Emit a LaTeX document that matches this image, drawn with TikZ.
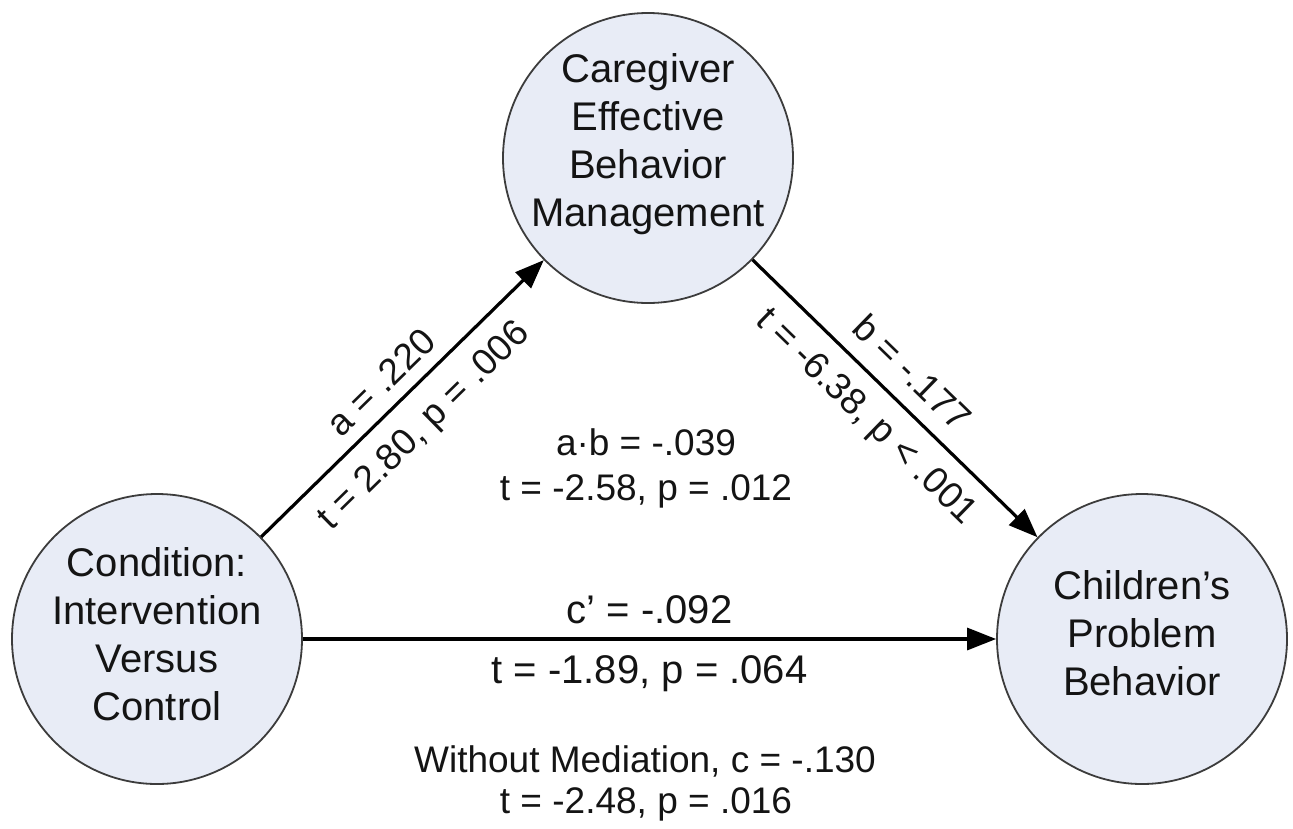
\documentclass[tikz,border=0pt]{standalone}
\usepackage{fontspec}
\setmainfont{Liberation Sans}
\usetikzlibrary{arrows.meta}
\definecolor{circfill}{RGB}{232,236,246}
\definecolor{circline}{RGB}{60,60,60}
\definecolor{txt}{RGB}{20,20,20}
\begin{document}
\begin{tikzpicture}[x=1pt,y=-1pt,
  circ/.style={circle, draw=circline, line width=1.8pt, fill=circfill, minimum size=290pt, inner sep=0pt},
  ctext/.style={align=center, text=txt, font=\fontsize{40}{48}\selectfont, inner sep=0pt},
  lab/.style={text=txt, font=\fontsize{37}{44}\selectfont, inner sep=0pt, anchor=base},
  hlab/.style={text=txt, font=\fontsize{40}{48}\selectfont, inner sep=0pt, anchor=base},
  arr/.style={-{Triangle[length=29pt,width=22pt]}, line width=3.2pt, black}]
\fill[white] (0,0) rectangle (1293,828);
\useasboundingbox (0,0) rectangle (1293,828);

\node[circ] (L) at (157,639) {};
\node[circ] (T) at (648,158) {};
\node[circ] (R) at (1142,639) {};

\node[ctext] (Lt) at (157,634.5) {Condition:\\Intervention\\Versus\\Control};
\node[ctext] (Tt) at (648,144) {Caregiver\\Effective\\Behavior\\Management};
\node[ctext] (Rt) at (1142,633.5) {Children’s\\Problem\\Behavior};

\draw[arr] (L) -- (T)
  node[lab, pos=0.49, sloped, yshift=14pt] (la1) {a = .220}
  node[lab, pos=0.49, sloped, yshift=-45pt] (la2) {t = 2.80, p = .006};
\draw[arr] (T) -- (R)
  node[lab, pos=0.485, sloped, yshift=18pt] (lb1) {b = -.177}
  node[lab, pos=0.48, sloped, yshift=-43.5pt] (lb2) {t = -6.38, p < .001};
\draw[arr] (L) -- (R)
  node[hlab, pos=0.5, yshift=16pt] (lc1) {c’ = -.092}
  node[hlab, pos=0.5, yshift=-44pt] (lc2) {t = -1.89, p = .064};

\node[lab] (m1) at (646,455) {a·b = -.039};
\node[lab] (m2) at (646,500) {t = -2.58, p = .012};
\node[lab] (w1) at (645,772) {Without Mediation, c = -.130};
\node[lab] (w2) at (646,813) {t = -2.48, p = .016};
\end{tikzpicture}
\end{document}
